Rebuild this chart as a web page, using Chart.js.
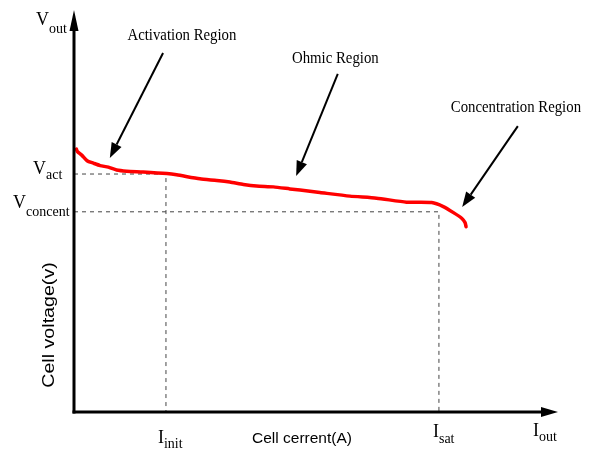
<!DOCTYPE html>
<html>
<head>
<meta charset="UTF-8">
<title>Cell voltage vs current</title>
<script src="https://cdn.jsdelivr.net/npm/chart.js@4.4.1/dist/chart.umd.min.js"></script>
<style>
	html, body { margin: 0; padding: 0; background: #fff; }
	#holder { width: 595px; height: 449px; }
</style>
</head>
<body>
<div id="holder"><canvas id="chart-area" width="595" height="449"></canvas></div>
<script>
	// polarization curve (axes run 0..100 in both directions)
	var currentA = [0.5, 0.7, 1.6, 2.7, 4.0, 5.4, 7.1, 8.8, 10.9, 14.3, 19.2, 21.2, 26.0, 29.5, 32.2,
		35.0, 37.7, 41.2, 44.6, 46.7, 50.8, 57.0, 62.5, 68.7, 73.9, 76.3, 78.4, 80.1, 80.8, 81.0];
	var voltageV = [65.4, 64.8, 63.9, 62.5, 61.9, 61.3, 60.9, 60.2, 59.9, 59.7, 59.3, 59.0, 58.0, 57.6, 57.2,
		56.6, 56.2, 56.0, 55.5, 55.2, 54.6, 53.7, 53.2, 52.2, 52.1, 51.1, 49.6, 48.2, 47.1, 46.1];

	// marked levels
	var vAct = 59.2;
	var vConcent = 49.8;
	var iInit = 19.0;
	var iSat = 75.4;

	// region notes (data units)
	var regionNames = ['Activation Region', 'Ohmic Region', 'Concentration Region'];
	var regionTextAt = [[22.3, 92.5], [54.0, 86.8], [91.3, 74.6]];
	var arrowTail = [[18.4, 89.3], [54.5, 84.1], [91.7, 71.1]];
	var arrowHead = [[7.4, 63.2], [45.9, 58.7], [80.2, 51.0]];

	var xTitle = 'Cell cerrent(A)';
	var yTitle = 'Cell voltage(v)';

	function serifText(ctx, text, x, y, size, sy) {
		ctx.save();
		ctx.translate(x, y);
		ctx.scale(1, sy);
		ctx.font = size + 'px "Liberation Serif"';
		ctx.textAlign = 'left';
		ctx.textBaseline = 'alphabetic';
		ctx.fillText(text, 0, 0);
		ctx.restore();
	}

	function subLabel(ctx, main, sub, left, base, subBase) {
		serifText(ctx, main, left, base, 18, 1.1);
		ctx.font = '18px "Liberation Serif"';
		var w = ctx.measureText(main).width;
		serifText(ctx, sub, left + w, subBase, 14, 1.1);
	}

	function arrow(ctx, x1, y1, x2, y2, len, half) {
		var a = Math.atan2(y2 - y1, x2 - x1);
		var bx = x2 - Math.cos(a) * len, by = y2 - Math.sin(a) * len;
		ctx.beginPath();
		ctx.moveTo(x1, y1);
		ctx.lineTo(bx, by);
		ctx.stroke();
		ctx.beginPath();
		ctx.moveTo(x2, y2);
		ctx.lineTo(bx - Math.sin(a) * half, by + Math.cos(a) * half);
		ctx.lineTo(bx + Math.sin(a) * half, by - Math.cos(a) * half);
		ctx.closePath();
		ctx.fill();
	}

	var sketchPlugin = {
		id: 'sketch',
		afterDraw: function (chart) {
			var ctx = chart.ctx;
			var xs = chart.scales.x, ys = chart.scales.y;
			var ox = xs.getPixelForValue(0), oy = ys.getPixelForValue(0);
			var top = ys.getPixelForValue(100), right = xs.getPixelForValue(100);
			ctx.save();
			ctx.fillStyle = '#000';
			ctx.strokeStyle = '#000';

			// axes with arrow heads
			ctx.lineWidth = 3;
			arrow(ctx, ox, oy + 1.5, ox, top, 21, 4.5);
			arrow(ctx, ox - 1.5, oy, right, oy, 17, 5);

			// region notes
			ctx.lineWidth = 2;
			for (var i = 0; i < regionNames.length; i++) {
				arrow(ctx, xs.getPixelForValue(arrowTail[i][0]), ys.getPixelForValue(arrowTail[i][1]),
					xs.getPixelForValue(arrowHead[i][0]), ys.getPixelForValue(arrowHead[i][1]), 15, 5.5);
				ctx.save();
				ctx.translate(xs.getPixelForValue(regionTextAt[i][0]), ys.getPixelForValue(regionTextAt[i][1]));
				ctx.scale(1, 1.2);
				ctx.font = '14.8px "Liberation Serif"';
				ctx.textAlign = 'center';
				ctx.textBaseline = 'alphabetic';
				ctx.fillText(regionNames[i], 0, 0);
				ctx.restore();
			}

			// axis marks
			subLabel(ctx, 'V', 'out', ox - 38, top + 15, top + 22.5);
			var pa = ys.getPixelForValue(vAct);
			subLabel(ctx, 'V', 'act', ox - 41, pa, pa + 4.5);
			var pc = ys.getPixelForValue(vConcent);
			subLabel(ctx, 'V', 'concent', ox - 61, pc - 4, pc + 4);
			subLabel(ctx, 'I', 'init', xs.getPixelForValue(iInit) - 8, oy + 31, oy + 36);
			subLabel(ctx, 'I', 'sat', xs.getPixelForValue(iSat) - 6, oy + 25, oy + 31);
			subLabel(ctx, 'I', 'out', right - 25, oy + 24, oy + 29);

			// axis titles
			ctx.font = '15.5px "Liberation Sans"';
			ctx.textAlign = 'left';
			ctx.textBaseline = 'alphabetic';
			ctx.fillText(xTitle, 252, oy + 31);
			ctx.save();
			ctx.translate(49.5, 325);
			ctx.rotate(-Math.PI / 2);
			ctx.scale(1.19, 1);
			ctx.font = '16.5px "Liberation Sans"';
			ctx.textAlign = 'center';
			ctx.textBaseline = 'middle';
			ctx.fillText(yTitle, 0, 0);
			ctx.restore();

			ctx.restore();
		}
	};

	var curve = currentA.map(function (x, i) { return { x: x, y: voltageV[i] }; });

	var config = {
		type: 'line',
		data: {
			datasets: [{
				label: 'V-I',
				data: curve,
				borderColor: '#ff0000',
				borderWidth: 3.5,
				pointRadius: 0,
				tension: 0.2,
				borderCapStyle: 'round',
				borderJoinStyle: 'round',
				clip: false,
				order: 0
			}, {
				label: 'act',
				data: [{ x: 0, y: vAct }, { x: iInit, y: vAct }, { x: iInit, y: 0 }],
				borderColor: '#444',
				borderWidth: 1,
				borderDash: [4, 4],
				pointRadius: 0,
				clip: false,
				order: 1
			}, {
				label: 'concent',
				data: [{ x: 0, y: vConcent }, { x: iSat, y: vConcent }, { x: iSat, y: 0 }],
				borderColor: '#444',
				borderWidth: 1,
				borderDash: [4, 4],
				pointRadius: 0,
				clip: false,
				order: 1
			}]
		},
		options: {
			responsive: false,
			animation: false,
			devicePixelRatio: 1,
			layout: { padding: { left: 74, right: 37, top: 10, bottom: 37 } },
			plugins: { legend: { display: false }, tooltip: { enabled: false } },
			scales: {
				x: { type: 'linear', min: 0, max: 100, display: false },
				y: { type: 'linear', min: 0, max: 100, display: false }
			}
		},
		plugins: [sketchPlugin]
	};

	window.onload = function () {
		var ctx = document.getElementById('chart-area').getContext('2d');
		window.myChart = new Chart(ctx, config);
	};
</script>
</body>
</html>
